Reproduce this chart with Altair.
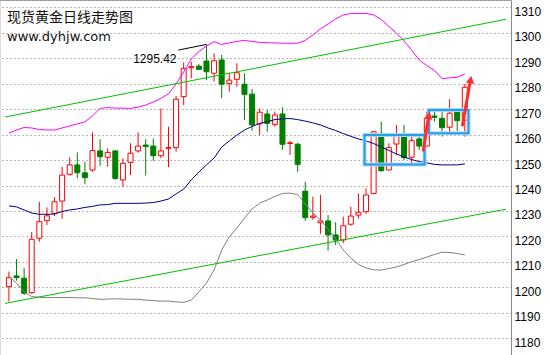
import altair as alt
import pandas as pd

# ---- data ----
day = list(range(61))
open_ = [1200.3, 1204.5, 1203.6, 1197.9, 1219.3, 1226.2, 1229.1, 1233.9, 1244.4, 1248.1,
         1245.0, 1246.1, 1253.6, 1251.1, 1253.6, 1242.2, 1249.1, 1253.6, 1255.9, 1255.5,
         1251.7, 1254.6, 1254.9, 1274.9, 1286.3, 1286.9, 1288.9, 1284.1, 1289.3, 1280.1,
         1281.7, 1279.8, 1275.9, 1264.2, 1268.1, 1264.0, 1268.1, 1256.5, 1256.2, 1237.8,
         1227.5, 1225.4, 1226.1, 1220.6, 1218.6, 1224.8, 1228.4, 1229.7, 1236.9, 1260.5,
         1246.1, 1256.3, 1259.8, 1251.1, 1258.3, 1255.5, 1267.3, 1266.4, 1262.9, 1269.0, 1265.7]
high = [1206.2, 1211.1, 1207.7, 1221.7, 1233.6, 1231.4, 1235.4, 1247.4, 1251.1, 1253.0,
        1249.4, 1260.9, 1258.2, 1254.6, 1253.8, 1250.7, 1256.6, 1260.9, 1258.2, 1258.5,
        1270.3, 1263.1, 1275.2, 1288.4, 1288.6, 1287.7, 1295.42, 1291.9, 1291.3, 1284.3,
        1288.0, 1284.1, 1277.9, 1270.3, 1269.7, 1269.0, 1270.7, 1257.6, 1256.8, 1241.5,
        1235.6, 1236.3, 1228.4, 1225.6, 1227.8, 1231.7, 1236.9, 1238.9, 1261.5, 1265.1,
        1256.6, 1263.8, 1263.8, 1259.5, 1259.2, 1269.0, 1269.0, 1270.3, 1273.9, 1269.7, 1279.9]
low = [1194.4, 1202.6, 1197.0, 1197.5, 1217.9, 1224.5, 1228.0, 1226.9, 1243.9, 1242.8,
       1240.5, 1245.4, 1247.7, 1247.4, 1242.2, 1239.5, 1244.1, 1252.9, 1243.9, 1249.7,
       1250.7, 1247.2, 1253.3, 1271.6, 1282.1, 1285.6, 1281.4, 1280.8, 1274.3, 1276.9,
       1278.8, 1265.7, 1261.5, 1259.8, 1261.1, 1263.1, 1254.0, 1252.0, 1245.4, 1226.1,
       1226.5, 1221.0, 1214.4, 1216.6, 1217.3, 1224.2, 1227.1, 1229.0, 1236.5, 1245.5,
       1246.0, 1252.0, 1250.0, 1248.5, 1254.0, 1255.0, 1265.1, 1259.2, 1259.8, 1261.4, 1259.2]
close = [1203.8, 1203.8, 1197.7, 1218.9, 1225.8, 1228.1, 1233.6, 1244.1, 1248.1, 1245.0,
         1243.1, 1253.7, 1251.3, 1253.0, 1242.8, 1248.7, 1252.7, 1255.5, 1255.3, 1251.7,
         1253.6, 1254.9, 1273.9, 1286.0, 1286.7, 1285.6, 1284.7, 1289.0, 1279.8, 1281.4,
         1284.3, 1275.8, 1263.8, 1268.8, 1264.4, 1267.7, 1256.2, 1256.8, 1248.3, 1227.4,
         1228.0, 1226.1, 1220.6, 1218.6, 1224.2, 1228.0, 1229.5, 1236.3, 1261.1, 1245.8,
         1254.9, 1259.8, 1250.9, 1257.6, 1255.5, 1266.4, 1266.8, 1262.7, 1268.4, 1265.5, 1278.6]
upper = [1260.6, 1261.8, 1262.8, 1262.6, 1262.0, 1261.8, 1261.8, 1262.6, 1263.4, 1264.2,
         1265.0, 1267.3, 1270.3, 1270.6, 1270.4, 1270.4, 1270.3, 1270.8, 1271.6, 1272.8,
         1274.2, 1276.0, 1279.9, 1284.6, 1289.7, 1292.6, 1294.8, 1296.5, 1295.4, 1296.0,
         1296.6, 1297.0, 1296.6, 1296.2, 1296.1, 1296.0, 1295.9, 1295.9, 1295.9, 1297.0,
         1299.1, 1301.5, 1303.4, 1305.4, 1307.0, 1307.6, 1307.6, 1307.6, 1307.0, 1305.2,
         1302.5, 1299.9, 1296.8, 1293.2, 1289.3, 1287.1, 1285.2, 1282.0, 1282.3, 1282.5, 1283.8]
middle = [1232.0, 1231.6, 1230.4, 1229.2, 1228.7, 1228.7, 1228.8, 1229.8, 1230.4, 1230.8,
          1231.4, 1231.8, 1232.4, 1232.5, 1233.0, 1233.0, 1233.0, 1233.0, 1233.1, 1233.3,
          1233.9, 1234.7, 1236.7, 1238.6, 1242.2, 1245.3, 1248.1, 1250.8, 1255.1, 1257.5,
          1259.8, 1261.8, 1263.2, 1264.4, 1265.1, 1265.9, 1266.2, 1266.3, 1265.9, 1265.3,
          1264.6, 1263.8, 1262.6, 1261.6, 1260.4, 1259.3, 1258.3, 1257.5, 1256.5, 1255.1,
          1253.8, 1252.4, 1251.2, 1250.2, 1249.4, 1248.9, 1248.3, 1248.1, 1248.1, 1248.1, 1248.5]
lower = [1204.3, 1201.7, 1198.2, 1196.4, 1196.1, 1196.0, 1196.0, 1196.0, 1196.0, 1195.9,
         1195.9, 1195.6, 1195.3, 1195.4, 1195.5, 1195.4, 1195.3, 1195.3, 1195.0, 1194.8,
         1194.6, 1194.6, 1194.3, 1194.1, 1195.0, 1198.2, 1201.7, 1206.8, 1214.7, 1219.8,
         1223.3, 1227.2, 1230.8, 1233.1, 1234.3, 1235.7, 1236.9, 1237.0, 1236.5, 1232.7,
         1229.2, 1226.5, 1222.9, 1219.0, 1214.7, 1211.5, 1209.0, 1207.6, 1206.9, 1206.8,
         1207.4, 1208.0, 1209.0, 1210.1, 1210.9, 1211.9, 1212.9, 1213.8, 1213.7, 1213.3, 1212.7]

y_ticks = list(range(1180, 1311, 10))

# channel lines (start / end)
trend_x = [-0.516, 65.42]
trend_upper = [1266.9, 1305.3]
trend_lower = [1193.7, 1230.7]

# high marker
peak_label = "1295.42"
peak_line_x = [22.3, 26.0]
peak_line_y = [1293.2, 1295.42]
peak_text_x = [22.06]
peak_text_y = [1288.0]

# consolidation boxes
box_x1 = [46.8, 55.26]
box_x2 = [54.7, 60.48]
box_y1 = [1248.3, 1260.5]
box_y2 = [1259.8, 1269.7]

# arrows
arr_x1 = [54.54, 59.7]
arr_y1 = [1253.9, 1263.8]
arr_x2 = [55.2, 60.68]
arr_y2 = [1266.3, 1280.5]
head_x = [55.27, 60.77]
head_y = [1267.5, 1281.6]
head_angle = [9, 10]

title_cn = "现货黄金日线走势图"
site = "www.dyhjw.com"

# ---- chart ----
X_DOM = [-0.516, 65.42]
Y_DOM = [1173.43, 1312.87]
xs = alt.Scale(domain=X_DOM, nice=False, zero=False)
ys = alt.Scale(domain=Y_DOM, nice=False, zero=False)
AX = alt.Axis(orient="right", values=y_ticks, format="d", grid=True, gridDash=[1, 3], gridColor="#707070",
              gridWidth=1, ticks=False, domain=True, domainColor="#8a8a8a", domainWidth=1,
              labelFont="Liberation Sans", labelFontSize=12, labelColor="#000000",
              labelPadding=3, labelBaseline="alphabetic", labelOffset=8, labelOverlap=False,
              title=None)


def X(f):
    return alt.X(f, type="quantitative", scale=xs, axis=None)


def Y(f):
    return alt.Y(f, type="quantitative", scale=ys, axis=AX)


df = pd.DataFrame(dict(day=day, open=open_, high=high, low=low, close=close,
                       upper=upper, middle=middle, lower=lower))
df["dir"] = ["up" if c >= o else "down" for o, c in zip(open_, close)]

dir_dom = ["up", "down"]

wicks = alt.Chart(df).mark_rule(strokeWidth=1).encode(
    x=X("day"), y=Y("low"), y2="high",
    color=alt.Color("dir:N", scale=alt.Scale(domain=dir_dom, range=["#ff0000", "#008000"]), legend=None),
)
bodies = alt.Chart(df).mark_bar(size=5, strokeWidth=1).encode(
    x=X("day"), y=Y("open"), y2="close",
    fill=alt.Fill("dir:N", scale=alt.Scale(domain=dir_dom, range=["#ffffff", "#008000"]), legend=None),
    stroke=alt.Stroke("dir:N", scale=alt.Scale(domain=dir_dom, range=["#ff0000", "#008000"]), legend=None),
)

up_line = alt.Chart(df).mark_line(color="#ff00ff", strokeWidth=1, clip=True).encode(x=X("day"), y=Y("upper"))
mid_line = alt.Chart(df).mark_line(color="#000080", strokeWidth=1, clip=True).encode(x=X("day"), y=Y("middle"))
low_line = alt.Chart(df).mark_line(color="#808080", strokeWidth=1, clip=True).encode(x=X("day"), y=Y("lower"))

tdf = pd.DataFrame(dict(x=trend_x, up=trend_upper, lo=trend_lower))
tr_up = alt.Chart(tdf).mark_line(color="#00c000", strokeWidth=1, clip=True).encode(x=X("x"), y=Y("up"))
tr_lo = alt.Chart(tdf).mark_line(color="#00c000", strokeWidth=1, clip=True).encode(x=X("x"), y=Y("lo"))

pdf = pd.DataFrame(dict(x=peak_line_x, y=peak_line_y))
peak_line = alt.Chart(pdf).mark_line(color="#000000", strokeWidth=1).encode(x=X("x"), y=Y("y"))
ptdf = pd.DataFrame(dict(x=peak_text_x, y=peak_text_y, t=[peak_label]))
peak_text = alt.Chart(ptdf).mark_text(align="right", baseline="alphabetic", font="Liberation Sans",
                                      fontSize=12, color="#000000").encode(x=X("x"), y=Y("y"), text="t:N")

bdf = pd.DataFrame(dict(x1=box_x1, x2=box_x2, y1=box_y1, y2=box_y2))
box_outer = alt.Chart(bdf).mark_rect(fillOpacity=0, stroke="#a8d8f8", strokeWidth=4).encode(
    x=X("x1"), x2="x2", y=Y("y1"), y2="y2")
box_inner = alt.Chart(bdf).mark_rect(fillOpacity=0, stroke="#2a9cec", strokeWidth=2).encode(
    x=X("x1"), x2="x2", y=Y("y1"), y2="y2")

adf = pd.DataFrame(dict(x1=arr_x1, y1=arr_y1, x2=arr_x2, y2=arr_y2))
shafts = alt.Chart(adf).mark_rule(color="#ff2d2d", strokeWidth=3, strokeCap="round").encode(
    x=X("x1"), y=Y("y1"), x2="x2", y2="y2")
hdf = pd.DataFrame(dict(x=head_x, y=head_y, a=head_angle))
heads = alt.Chart(hdf).mark_point(shape="triangle-up", filled=True, size=70, color="#ff2d2d", opacity=1).encode(
    x=X("x"), y=Y("y"), angle=alt.Angle("a:Q", scale=None))

top_border = alt.Chart(pd.DataFrame({"v": [0]})).mark_rule(color="#a0a0a0", strokeWidth=1).encode(
    x=alt.value(0), x2=alt.value(511), y=alt.value(0.5))

t1 = alt.Chart(pd.DataFrame({"t": [title_cn]})).mark_text(
    align="left", baseline="alphabetic", font="Noto Sans CJK SC", fontSize=14, color="#111111").encode(
    x=alt.value(7), y=alt.value(22), text="t:N")
t2 = alt.Chart(pd.DataFrame({"t": [site]})).mark_text(
    align="left", baseline="alphabetic", font="DejaVu Sans", fontSize=13, color="#111111").encode(
    x=alt.value(7), y=alt.value(40.5), text="t:N")

chart = alt.layer(
    wicks, bodies, up_line, mid_line, low_line, tr_up, tr_lo,
    peak_line, peak_text, box_outer, box_inner, shafts, heads, top_border, t1, t2
).properties(
    width=511, height=355, autosize="none",
    padding={"left": 0, "top": 0, "right": 39, "bottom": 0}
).configure_view(stroke=None).configure(background="#ffffff")

chart.save("out.html", embed_options={"renderer": "svg", "actions": False})
